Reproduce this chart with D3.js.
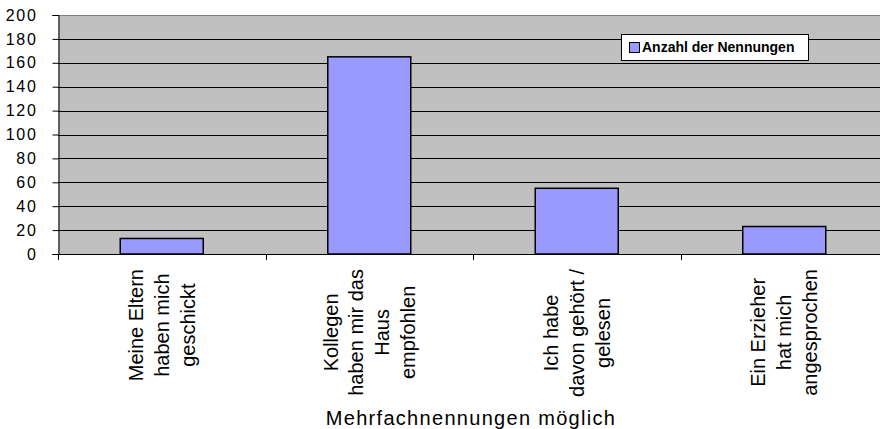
<!DOCTYPE html>
<html>
<head>
<meta charset="utf-8">
<script src="https://cdn.jsdelivr.net/npm/d3@7"></script>
<style>
  html, body { margin: 0; padding: 0; background: #fff; }
  svg { display: block; font-family: Arial, "Liberation Sans", sans-serif; }
</style>
</head>
<body>
<svg id="chart" width="880" height="429"></svg>
<script>
// Answers (multiple answers allowed), one bar per answer
const categories = [
  "Meine Eltern\nhaben mich\ngeschickt",
  "Kollegen\nhaben mir das\nHaus\nempfohlen",
  "Ich habe\ndavon gehört /\ngelesen",
  "Ein Erzieher\nhat mich\nangesprochen"
];
const counts = [13, 165, 55, 23];
const yTicks = [0, 20, 40, 60, 80, 100, 120, 140, 160, 180, 200];
const seriesName = "Anzahl der Nennungen";
const xTitle = "Mehrfachnennungen möglich";

const svg = d3.select("#chart");
const plot = { left: 58, right: 888, top: 15, bottom: 254 };

const x = d3.scaleBand()
  .domain(categories)
  .range([plot.left, plot.right])
  .paddingInner(0.6)
  .paddingOuter(0.3);

const y = d3.scaleLinear()
  .domain([0, 200])
  .range([plot.bottom, plot.top]);

// plot area background
svg.append("rect")
  .attr("x", plot.left).attr("y", plot.top)
  .attr("width", plot.right - plot.left)
  .attr("height", plot.bottom - plot.top)
  .attr("fill", "#C0C0C0");

// horizontal gridlines
svg.append("g")
  .selectAll("line")
  .data(yTicks.filter(d => d > 0))
  .join("line")
  .attr("x1", plot.left).attr("x2", plot.right)
  .attr("y1", d => Math.round(y(d)) + 0.5)
  .attr("y2", d => Math.round(y(d)) + 0.5)
  .attr("stroke", d => d === 200 ? "#808080" : "#000")
  .attr("stroke-width", 1);

// bars
svg.append("g")
  .selectAll("rect")
  .data(categories.map((c, i) => ({ c, v: counts[i] })))
  .join("rect")
  .attr("x", d => x(d.c))
  .attr("y", d => y(d.v))
  .attr("width", x.bandwidth())
  .attr("height", d => y(0) - y(d.v))
  .attr("fill", "#9999FF")
  .attr("stroke", "#000")
  .attr("stroke-width", 1.5);

// y axis
const yAxis = d3.axisLeft(y)
  .tickValues(yTicks)
  .tickSize(6)
  .tickPadding(15)
  .tickFormat(d3.format("d"));
const gy = svg.append("g")
  .attr("transform", `translate(${plot.left + 0.5},0)`)
  .call(yAxis);
gy.select(".domain").attr("stroke", "#000");
gy.selectAll(".tick line").attr("stroke", "#000");
gy.selectAll(".tick text")
  .attr("font-size", 16)
  .attr("letter-spacing", "1.7px")
  .attr("fill", "#000")
  .attr("font-family", "Arial, 'Liberation Sans', sans-serif");

// x axis line with tick marks between categories
const step = x.step();
const gapHalf = (step - x.bandwidth()) / 2;
const boundaries = categories.map(c => x(c) - gapHalf).concat([x(categories[categories.length - 1]) + x.bandwidth() + gapHalf]);
svg.append("line")
  .attr("x1", plot.left).attr("x2", plot.right)
  .attr("y1", plot.bottom + 0.5).attr("y2", plot.bottom + 0.5)
  .attr("stroke", "#000");
svg.append("g")
  .selectAll("line")
  .data(boundaries)
  .join("line")
  .attr("x1", d => Math.round(d) + 0.5).attr("x2", d => Math.round(d) + 0.5)
  .attr("y1", plot.bottom).attr("y2", plot.bottom + 6)
  .attr("stroke", "#000");

// rotated multi-line category labels
const lineGap = 25.8;
const labelTop = 269;
categories.forEach(c => {
  const lines = c.split("\n");
  const cx = x(c) + x.bandwidth() / 2;
  const g = svg.append("g").attr("transform", `translate(${cx},0) rotate(-90)`);
  const texts = lines.map((ln, i) => g.append("text")
    .text(ln)
    .attr("y", (i - (lines.length - 1) / 2) * lineGap)
    .attr("dominant-baseline", "central")
    .attr("text-anchor", "middle")
    .attr("font-size", 20)
    .attr("fill", "#000"));
  const maxLen = d3.max(texts, t => t.node().getComputedTextLength());
  texts.forEach(t => t.attr("x", -(labelTop + maxLen / 2)));
});

// x axis title
svg.append("text")
  .attr("x", (plot.left + plot.right) / 2 - 2)
  .attr("y", 425)
  .attr("text-anchor", "middle")
  .attr("font-size", 20)
  .attr("letter-spacing", "1.3px")
  .attr("fill", "#000")
  .text(xTitle);

// legend
const legend = svg.append("g");
legend.append("rect")
  .attr("x", 621.5).attr("y", 34.5)
  .attr("width", 187).attr("height", 26)
  .attr("fill", "#fff").attr("stroke", "#000");
legend.append("rect")
  .attr("x", 629.5).attr("y", 42.5)
  .attr("width", 10).attr("height", 10)
  .attr("fill", "#9999FF").attr("stroke", "#000");
legend.append("text")
  .attr("x", 642).attr("y", 52)
  .attr("font-size", 14)
  .attr("font-weight", "bold")
  .attr("fill", "#000")
  .text(seriesName);
</script>
</body>
</html>
